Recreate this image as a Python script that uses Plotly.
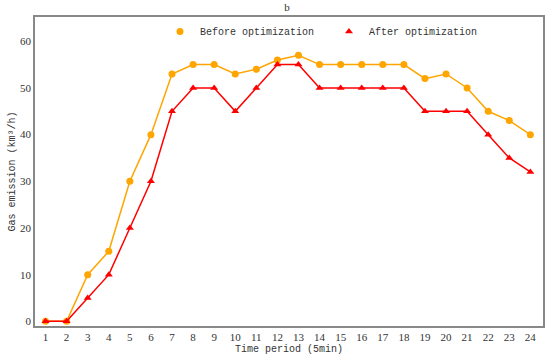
import plotly.graph_objects as go

periods = list(range(1, 25))
before = [0, 0, 10, 15, 30, 40, 53, 55, 55, 53, 54, 56, 57, 55, 55, 55, 55, 55, 52, 53, 50, 45, 43, 40]
after = [0, 0, 5, 10, 20, 30, 45, 50, 50, 45, 50, 55, 55, 50, 50, 50, 50, 50, 45, 45, 45, 40, 35, 32]
y_ticks = [0, 10, 20, 30, 40, 50, 60]

mono = "Liberation Mono"
serif = "Liberation Serif"
orange = "#FFA500"
red = "#FF0000"

fig = go.Figure()
fig.add_trace(go.Scatter(x=periods, y=before, mode="lines+markers", name="Before optimization",
                         line=dict(color=orange, width=1.5), showlegend=False,
                         marker=dict(symbol="circle", size=7, color=orange)))
fig.add_trace(go.Scatter(x=periods, y=after, mode="lines+markers", name="After optimization",
                         line=dict(color=red, width=1.5), showlegend=False,
                         marker=dict(symbol="triangle-up", size=7, color=red)))
# legend entries (marker only)
fig.add_trace(go.Scatter(x=[None], y=[None], mode="markers", name="Before optimization",
                         marker=dict(symbol="circle", size=7, color=orange)))
fig.add_trace(go.Scatter(x=[None], y=[None], mode="markers", name="After optimization",
                         marker=dict(symbol="triangle-up", size=7, color=red)))

fig.update_layout(
    width=550, height=359,
    margin=dict(l=35, r=5, t=17, b=33),
    paper_bgcolor="white", plot_bgcolor="white",
    title=dict(text="b", x=0.522, xanchor="center", y=0.99, yanchor="top",
               font=dict(family=serif, size=11, color="#333")),
    legend=dict(orientation="h", x=0.246, xanchor="left", y=1.0, yanchor="top",
                font=dict(family=mono, size=10, color="#333"),
                bgcolor="rgba(0,0,0,0)", entrywidth=124, itemwidth=30),
    xaxis=dict(range=[0.5, 24.6], tickmode="array", tickvals=periods,
               ticktext=[str(p) for p in periods], showgrid=False, zeroline=False,
               showline=True, linecolor="#888", linewidth=1.5, mirror=True, ticks="",
               tickfont=dict(family=serif, size=11, color="#333"),
               title=dict(text="Time period (5min)", font=dict(family=mono, size=10, color="#333"), standoff=3)),
    yaxis=dict(range=[-1, 65.2], tickmode="array", tickvals=y_ticks, showgrid=False, zeroline=False,
               showline=True, linecolor="#888", linewidth=1.5, mirror=True, ticks="",
               tickfont=dict(family=serif, size=11, color="#333"),
               title=dict(text="Gas emission (km³/h)", font=dict(family=mono, size=10, color="#333"), standoff=3)),
)

fig.write_html("out.html", config={"displayModeBar": False},
               post_script="document.body.style.margin='0';")
